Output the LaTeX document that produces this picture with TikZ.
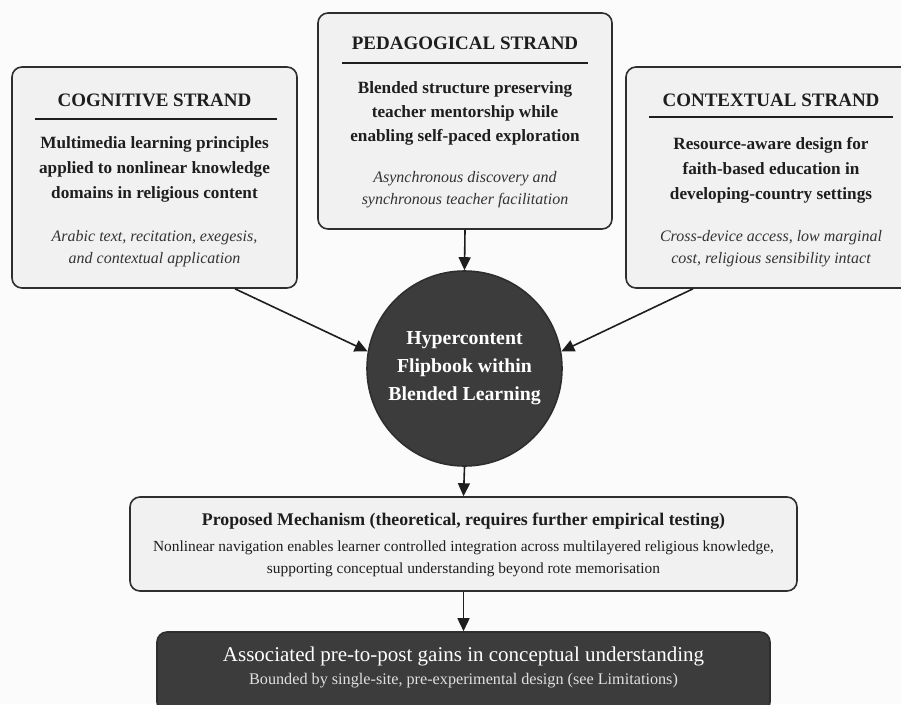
\documentclass[tikz,border=0pt]{standalone}
\usepackage{fontspec}
\setmainfont{Liberation Serif}
\usetikzlibrary{arrows.meta}
\definecolor{boxfill}{HTML}{F1F1F1}
\definecolor{boxline}{HTML}{2E2E2E}
\definecolor{darkfill}{HTML}{3C3C3C}
\definecolor{bgcol}{HTML}{FBFBFB}
\definecolor{txt}{HTML}{1E1E1E}
\definecolor{itxt}{HTML}{333333}
\tikzset{
  strandbox/.style={draw=boxline, line width=1.6pt, fill=boxfill, rounded corners=10pt, inner sep=0pt},
  darkbox/.style={draw=boxline, line width=1.6pt, fill=darkfill, rounded corners=10pt, inner sep=0pt},
  titletext/.style={font=\bfseries\fontsize{19}{22}\selectfont, text=txt, inner sep=0pt},
  bodytext/.style={font=\bfseries\fontsize{17.2}{25}\selectfont, text=txt, align=center, inner sep=0pt},
  itext/.style={font=\itshape\fontsize{16}{22}\selectfont, text=itxt, align=center, inner sep=0pt},
  sepline/.style={draw=txt, line width=1.3pt},
  arr/.style={draw=txt, line width=1.6pt, -{Triangle[length=13pt,width=12pt]}},
}
\begin{document}
\begin{tikzpicture}[x=1pt,y=-1pt]
\clip (0,0) rectangle (901,704);
\fill[bgcol] (0,0) rectangle (901,704);
% boxes
\node[strandbox, minimum width=285pt, minimum height=221pt] (lb) at (154.5,177.5) {};
\node[strandbox, minimum width=294pt, minimum height=216pt] (mb) at (465,121) {};
\node[strandbox, minimum width=287pt, minimum height=221pt] (rb) at (769.5,177.5) {};
\node[circle, draw=boxline, line width=1.6pt, fill=darkfill, minimum size=195pt, inner sep=0pt] (hc) at (464.5,368.5) {};
\node[strandbox, minimum width=667pt, minimum height=94pt] (mech) at (463.5,544) {};
\node[darkbox, minimum width=613pt, minimum height=80pt] (res) at (463.5,672) {};
% left box text
\node[titletext] (lt) at (154.5,100) {COGNITIVE STRAND};
\draw[sepline] (35,119) -- (277,119);
\node[bodytext] (lbody) at (154.5,169) {Multimedia learning principles\\applied to nonlinear knowledge\\domains in religious content};
\node[itext] (lit) at (154.5,249) {Arabic text, recitation, exegesis,\\and contextual application};
% middle box text
\node[titletext] (mt) at (465,43) {PEDAGOGICAL STRAND};
\draw[sepline] (342,63) -- (588,63);
\node[bodytext, font=\bfseries\fontsize{17.2}{24}\selectfont] (mbody) at (465,113) {Blended structure preserving\\teacher mentorship while\\enabling self-paced exploration};
\node[itext] (mit) at (465,190) {Asynchronous discovery and\\synchronous teacher facilitation};
% right box text
\node[titletext] (rt) at (771,100) {CONTEXTUAL STRAND};
\draw[sepline] (649,117) -- (893,117);
\node[bodytext] (rbody) at (771,170) {Resource-aware design for\\faith-based education in\\developing-country settings};
\node[itext] (rit) at (771,249) {Cross-device access, low marginal\\cost, religious sensibility intact};
% circle text
\node[font=\bfseries\fontsize{19.8}{28}\selectfont, text=white, align=center, inner sep=0pt] (hct) at (464.5,368) {Hypercontent\\Flipbook within\\Blended Learning};
% mechanism text
\node[font=\bfseries\fontsize{17.8}{20}\selectfont, text=txt, inner sep=0pt] (mecht) at (463.5,521) {Proposed Mechanism (theoretical, requires further empirical testing)};
\node[font=\fontsize{15.4}{22}\selectfont, text=txt, align=center, inner sep=0pt] (mechb) at (463.5,559) {Nonlinear navigation enables learner controlled integration across multilayered religious knowledge,\\supporting conceptual understanding beyond rote memorisation};
% result text
\node[font=\fontsize{21}{24}\selectfont, text=white, inner sep=0pt] (rest) at (463.5,656) {Associated pre-to-post gains in conceptual understanding};
\node[font=\fontsize{16.2}{20}\selectfont, text=white!88!black, inner sep=0pt] (resb) at (463.5,681) {Bounded by single-site, pre-experimental design (see Limitations)};
% arrows
\draw[arr] ([xshift=80.5pt]lb.south) -- (hc.170);
\draw[arr] (mb.south) -- (hc.north);
\draw[arr] ([xshift=-76.5pt]rb.south) -- (hc.10);
\draw[arr] (hc.south) -- (mech.north);
\draw[arr] (mech.south) -- (res.north);
\end{tikzpicture}
\end{document}
